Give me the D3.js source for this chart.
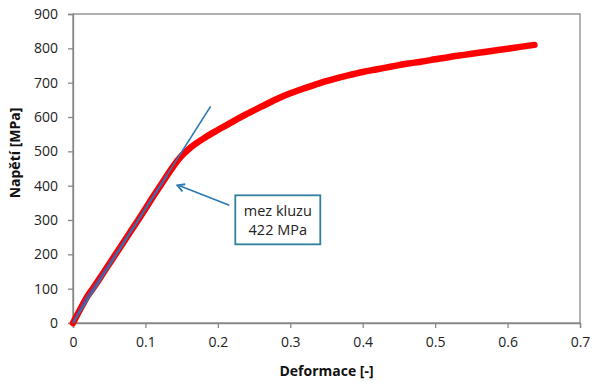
<!DOCTYPE html>
<html>
<head>
<meta charset="utf-8">
<script src="https://cdn.jsdelivr.net/npm/d3@7"></script>
<style>
  body { margin: 0; background: #fff; }
  svg { display: block; font-family: "Open Sans", "Liberation Sans", sans-serif; }
</style>
</head>
<body>
<svg id="chart" width="600" height="387" viewBox="0 0 600 387"></svg>
<script>
// --- Data ---
const strain = [0, 0.01, 0.02, 0.03, 0.04, 0.05, 0.06, 0.07, 0.08, 0.09, 0.10, 0.11, 0.12, 0.13,
  0.14, 0.15, 0.16, 0.17, 0.18, 0.19, 0.20, 0.22, 0.24, 0.26, 0.28, 0.30, 0.32, 0.34, 0.36,
  0.38, 0.40, 0.42, 0.44, 0.46, 0.48, 0.50, 0.52, 0.54, 0.56, 0.58, 0.60, 0.62, 0.637];
const stress = [0, 40, 78, 108, 140, 172, 204, 236, 268, 300, 333, 366, 398, 430,
  461, 487, 507, 523, 537, 550, 562, 586, 609, 630, 651, 669, 684, 698, 710,
  721, 731, 739, 747, 755, 761, 768, 775, 781, 787, 793, 799, 805, 810];
// elastic part (blue series under the red one)
const elasticEnd = 0.13;
// tangent line end points
const tangentX = [0, 0.19];
const tangentY = [0, 631];
// annotation
const yieldPoint = [0.144, 401];
const noteLines = ["mez kluzu", "422 MPa"];

const xTicks = [0, 0.1, 0.2, 0.3, 0.4, 0.5, 0.6, 0.7];
const yTicks = [0, 100, 200, 300, 400, 500, 600, 700, 800, 900];

// --- Layout ---
const svg = d3.select("#chart");
const margin = { left: 73, right: 20, top: 14, bottom: 64 };
const width = 600, height = 387;
const plotW = width - margin.left - margin.right;
const plotH = height - margin.top - margin.bottom;

const x = d3.scaleLinear().domain([0, 0.7]).range([margin.left, margin.left + plotW]);
const y = d3.scaleLinear().domain([0, 900]).range([margin.top + plotH, margin.top]);

const axisColor = "#878787";
const blue = "#2a78b4";

// plot border (top / right)
svg.append("rect")
  .attr("x", x(0)).attr("y", y(900))
  .attr("width", x(0.7) - x(0)).attr("height", y(0) - y(900))
  .attr("fill", "none").attr("stroke", axisColor).attr("stroke-width", 1.3);

// axes
const xAxis = svg.append("g")
  .attr("transform", `translate(0,${y(0)})`)
  .call(d3.axisBottom(x).tickValues(xTicks).tickSize(5).tickPadding(9)
    .tickFormat(d => d === 0 ? "0" : d3.format(".1f")(d)));
const yAxis = svg.append("g")
  .attr("transform", `translate(${x(0)},0)`)
  .call(d3.axisLeft(y).tickValues(yTicks).tickSize(5).tickPadding(10));

[xAxis, yAxis].forEach(g => {
  g.select(".domain").attr("stroke", axisColor).attr("stroke-width", 1.3);
  g.selectAll(".tick line").attr("stroke", axisColor).attr("stroke-width", 1.3);
  g.selectAll(".tick text").attr("fill", "#222").style("font-size", "14px")
    .style("font-family", "'Open Sans', sans-serif");
});

// axis titles
svg.append("text")
  .attr("x", (x(0) + x(0.7)) / 2).attr("y", 376)
  .attr("text-anchor", "middle")
  .style("font-size", "14px").style("font-weight", "bold").attr("fill", "#111")
  .text("Deformace [-]");
svg.append("text")
  .attr("transform", `translate(20,153) rotate(-90)`)
  .attr("text-anchor", "middle")
  .style("font-size", "14px").style("font-weight", "bold").attr("fill", "#111")
  .text("Napětí [MPa]");

// --- Curves ---
const pts = strain.map((s, i) => [s, stress[i]]);
const line = d3.line().x(d => x(d[0])).y(d => y(d[1])).curve(d3.curveMonotoneX);

svg.append("path")
  .datum(pts)
  .attr("d", line)
  .attr("fill", "none")
  .attr("stroke", "#ff0000")
  .attr("stroke-width", 6.5)
  .attr("stroke-linejoin", "round")
  .attr("stroke-linecap", "round");

svg.append("path")
  .datum(pts.filter(d => d[0] <= elasticEnd))
  .attr("d", line)
  .attr("fill", "none")
  .attr("stroke", "#5b4fa3")
  .attr("stroke-width", 2.5)
  .attr("opacity", 0.85);

// tangent
svg.append("line")
  .attr("x1", x(tangentX[0])).attr("y1", y(tangentY[0]))
  .attr("x2", x(tangentX[1])).attr("y2", y(tangentY[1]))
  .attr("stroke", blue).attr("stroke-width", 1.6);

// --- Annotation ---
const ax = x(yieldPoint[0]), ay = y(yieldPoint[1]);
const boxX = ax + 58, boxY = ay + 10, boxW = 85, boxH = 49;
const tailX = boxX - 6, tailY = ay + 20;

svg.append("line")
  .attr("x1", tailX).attr("y1", tailY)
  .attr("x2", ax + 1).attr("y2", ay)
  .attr("stroke", blue).attr("stroke-width", 1.6);

// open arrow head
const ang = Math.atan2(tailY - ay, tailX - ax);
const headLen = 8, spread = 0.5;
svg.append("path")
  .attr("d", `M${ax + headLen * Math.cos(ang - spread)},${ay + headLen * Math.sin(ang - spread)}` +
    `L${ax},${ay}L${ax + headLen * Math.cos(ang + spread)},${ay + headLen * Math.sin(ang + spread)}`)
  .attr("fill", "none").attr("stroke", blue).attr("stroke-width", 1.8)
  .attr("stroke-linejoin", "miter");

svg.append("rect")
  .attr("x", boxX).attr("y", boxY)
  .attr("width", boxW).attr("height", boxH)
  .attr("fill", "#fff").attr("stroke", "#31809f").attr("stroke-width", 1.8);

svg.append("text")
  .attr("text-anchor", "middle")
  .style("font-size", "14.5px").attr("fill", "#222")
  .selectAll("tspan")
  .data(noteLines)
  .join("tspan")
  .attr("x", boxX + boxW / 2)
  .attr("y", (d, i) => boxY + 21 + i * 19)
  .text(d => d);
</script>
</body>
</html>
